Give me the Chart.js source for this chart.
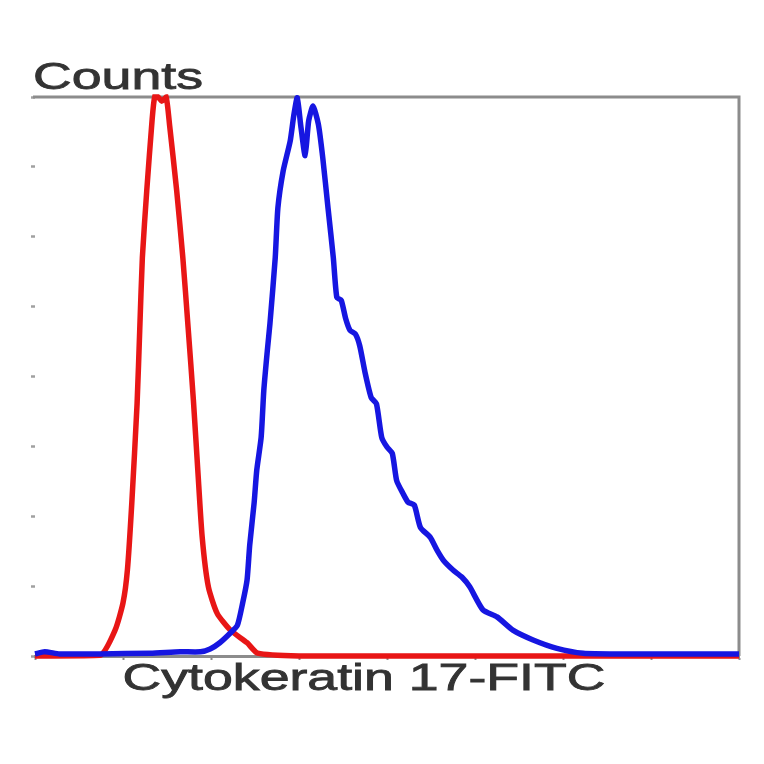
<!DOCTYPE html>
<html>
<head>
<meta charset="utf-8">
<script src="https://cdn.jsdelivr.net/npm/chart.js@4.4.1/dist/chart.umd.min.js"></script>
<style>
  html, body { margin: 0; padding: 0; background: #fff; }
  #wrap { width: 764px; height: 764px; }
</style>
</head>
<body>
<div id="wrap"><canvas id="myChart" width="764" height="764"></canvas></div>
<script>
// axis texts
const yTitle = 'Counts';
const xTitle = 'Cytokeratin 17-FITC';

// isotype control (red) - channel vs counts
const redX = [0, 74, 91, 100, 105, 110, 116, 119, 122, 127, 133, 136, 140, 144, 149, 153, 161, 168, 174, 180, 185, 190, 197, 207, 222, 241, 253, 300, 400, 500, 600, 700, 800];
const redY = [0, 1, 37, 76, 123, 219, 361, 466, 570, 666, 766, 800, 800, 794, 800, 759, 666, 570, 470, 366, 266, 170, 99, 61, 37, 19, 4, 0, 0, 0, 0, 0, 0];

// Cytokeratin 17 stained sample (blue)
const blueX = [0, 11, 28, 74, 131, 165, 188, 199, 210, 222, 230, 236, 241, 244, 249, 252, 257, 260, 264, 267, 273, 276, 282, 290, 294, 298, 302, 307, 311, 316, 322, 327, 333, 339, 343, 348, 353, 358, 364, 369, 375, 382, 388, 394, 400, 406, 411, 418, 424, 431, 438, 449, 457, 464, 475, 485, 494, 509, 525, 543, 566, 593, 623, 665, 733, 800];
const blueY = [3, 6, 3, 3, 4, 6, 6, 10, 19, 33, 44, 76, 109, 159, 219, 266, 313, 380, 437, 476, 570, 641, 694, 737, 773, 799, 759, 716, 766, 787, 761, 713, 641, 570, 513, 509, 483, 466, 461, 444, 406, 370, 361, 313, 299, 290, 251, 233, 220, 216, 184, 170, 151, 137, 123, 113, 99, 66, 56, 37, 23, 11, 4, 3, 3, 3];

function toPoints(xs, ys) {
    return xs.map((x, i) => ({x: x, y: ys[i]}));
}

const TICK = 4;

// draws the gray top/right frame and the stretched axis texts
const frameAndText = {
    id: 'frameAndText',
    beforeDatasetsDraw(chart) {
        const {ctx, chartArea: a} = chart;
        ctx.save();
        ctx.strokeStyle = '#8c8c8c';
        ctx.lineWidth = 3;
        ctx.beginPath();
        ctx.moveTo(a.left - 2, a.top);
        ctx.lineTo(a.right, a.top);
        ctx.lineTo(a.right, a.bottom);
        ctx.stroke();
        ctx.restore();
    },
    afterDraw(chart) {
        const {ctx, chartArea: a} = chart;
        ctx.save();
        ctx.fillStyle = '#333';
        ctx.strokeStyle = '#333';
        ctx.lineWidth = 0.8;
        ctx.font = '36px "Liberation Sans", Arial, sans-serif';
        ctx.textBaseline = 'alphabetic';
        // the original lettering is stretched sideways
        const sx = 1.49;
        ctx.save();
        ctx.translate(a.left - 2, a.top - 8);
        ctx.scale(sx, 1);
        ctx.textAlign = 'left';
        ctx.fillText(yTitle, 0, 0);
        ctx.strokeText(yTitle, 0, 0);
        ctx.restore();
        ctx.save();
        ctx.translate(364, 690);
        ctx.scale(sx, 1);
        ctx.textAlign = 'center';
        ctx.fillText(xTitle, 0, 0);
        ctx.strokeText(xTitle, 0, 0);
        ctx.restore();
        ctx.restore();
    }
};

const ctx = document.getElementById('myChart');
const myChart = new Chart(ctx, {
    type: 'line',
    data: {
        datasets: [
            {
                label: 'Cytokeratin 17',
                data: toPoints(blueX, blueY),
                borderColor: 'rgb(22,22,225)',
                borderWidth: 5.5,
                pointRadius: 0,
                tension: 0.2,
                fill: false,
                clip: false,
            },
            {
                label: 'Isotype',
                data: toPoints(redX, redY),
                borderColor: 'rgb(232,22,22)',
                borderWidth: 5.5,
                pointRadius: 0,
                tension: 0.2,
                fill: false,
                clip: false,
            },
        ]
    },
    options: {
        responsive: false,
        animation: false,
        layout: {
            padding: {left: 35 - TICK, right: 25, top: 97, bottom: 764 - 656 - TICK}
        },
        scales: {
            x: {
                type: 'linear',
                min: 0,
                max: 800,
                ticks: {display: false, stepSize: 100},
                grid: {drawOnChartArea: false, tickLength: TICK, color: '#8c8c8c', tickWidth: 2},
                border: {display: true, color: '#8c8c8c', width: 3},
            },
            y: {
                min: 0,
                max: 800,
                ticks: {display: false, stepSize: 100},
                grid: {drawOnChartArea: false, tickLength: TICK, color: '#a0a0a0', tickWidth: 2.5},
                border: {display: false},
            }
        },
        plugins: {
            legend: {display: false},
            tooltip: {enabled: false},
        }
    },
    plugins: [frameAndText]
});
</script>
</body>
</html>
